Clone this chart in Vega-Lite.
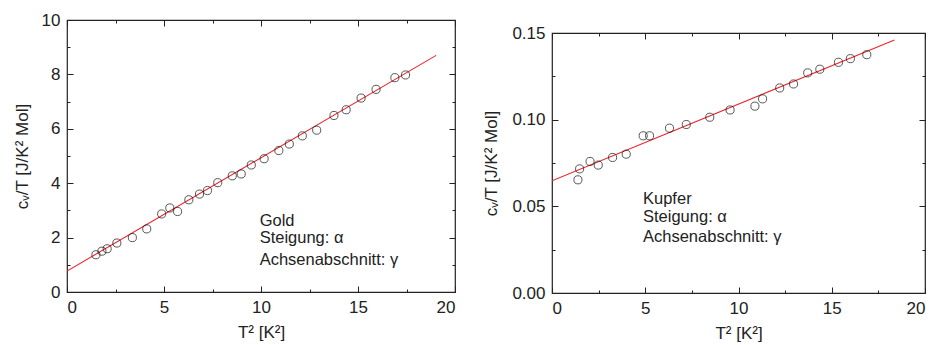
{
  "$schema": "https://vega.github.io/schema/vega-lite/v6.json",
  "padding": {"left": 12, "top": 10, "right": 0, "bottom": 0},
  "spacing": 25,
  "config": {
    "font": "Liberation Sans",
    "view": {"stroke": "#222", "strokeWidth": 1.2},
    "axis": {
      "domain": false,
      "grid": false,
      "labelFont": "Liberation Sans",
      "labelFontSize": 17,
      "labelColor": "#222",
      "titleFont": "Liberation Sans",
      "titleFontSize": 17,
      "titleFontWeight": "normal",
      "titleColor": "#222",
      "tickColor": "#222",
      "tickWidth": 1,
      "labelPadding": 13
    }
  },
  "datasets": {
    "gold": [
      {"t2": 1.49, "c": 1.37}, {"t2": 1.80, "c": 1.50}, {"t2": 2.07, "c": 1.59},
      {"t2": 2.57, "c": 1.80}, {"t2": 3.37, "c": 2.00}, {"t2": 4.11, "c": 2.32},
      {"t2": 4.88, "c": 2.87}, {"t2": 5.30, "c": 3.09}, {"t2": 5.70, "c": 2.96},
      {"t2": 6.28, "c": 3.39}, {"t2": 6.83, "c": 3.60}, {"t2": 7.24, "c": 3.73},
      {"t2": 7.77, "c": 4.02}, {"t2": 8.52, "c": 4.27}, {"t2": 8.98, "c": 4.34},
      {"t2": 9.50, "c": 4.67}, {"t2": 10.16, "c": 4.90}, {"t2": 10.92, "c": 5.20},
      {"t2": 11.46, "c": 5.44}, {"t2": 12.13, "c": 5.74}, {"t2": 12.87, "c": 5.95},
      {"t2": 13.76, "c": 6.49}, {"t2": 14.39, "c": 6.70}, {"t2": 15.16, "c": 7.13},
      {"t2": 15.93, "c": 7.45}, {"t2": 16.90, "c": 7.88}, {"t2": 17.45, "c": 7.98}
    ],
    "goldfit": [{"t2": 0, "c": 0.77}, {"t2": 19.03, "c": 8.70}],
    "goldtext": [
      {"t2": 9.93, "c": 2.42, "label": "Gold"},
      {"t2": 9.93, "c": 1.80, "label": "Steigung: α"},
      {"t2": 9.93, "c": 0.98, "label": "Achsenabschnitt: γ"}
    ],
    "kupfer": [
      {"t2": 1.39, "c": 0.0653}, {"t2": 1.48, "c": 0.0716}, {"t2": 2.04, "c": 0.0759},
      {"t2": 2.48, "c": 0.0738}, {"t2": 3.25, "c": 0.0782}, {"t2": 3.98, "c": 0.0801},
      {"t2": 4.89, "c": 0.0907}, {"t2": 5.23, "c": 0.0907}, {"t2": 6.30, "c": 0.0951},
      {"t2": 7.20, "c": 0.0972}, {"t2": 8.46, "c": 0.1014}, {"t2": 9.55, "c": 0.1056},
      {"t2": 10.88, "c": 0.1078}, {"t2": 11.29, "c": 0.1120}, {"t2": 12.21, "c": 0.1183},
      {"t2": 12.95, "c": 0.1206}, {"t2": 13.71, "c": 0.1270}, {"t2": 14.36, "c": 0.1291},
      {"t2": 15.36, "c": 0.1331}, {"t2": 16.00, "c": 0.1352}, {"t2": 16.88, "c": 0.1375}
    ],
    "kupferfit": [{"t2": 0, "c": 0.0647}, {"t2": 18.36, "c": 0.146}],
    "kupfertext": [
      {"t2": 4.88, "c": 0.0511, "label": "Kupfer"},
      {"t2": 4.88, "c": 0.0407, "label": "Steigung: α"},
      {"t2": 4.88, "c": 0.0292, "label": "Achsenabschnitt: γ"}
    ],
    "blank": [{"label": ""}]
  },
  "hconcat": [
    {
      "width": 388,
      "height": 272,
      "resolve": {"axis": {"x": "independent", "y": "independent"}},
      "layer": [
        {
          "data": {"name": "goldfit"},
          "mark": {"type": "line", "color": "#e8262d", "strokeWidth": 1.1, "clip": true},
          "encoding": {
            "x": {"field": "t2", "type": "quantitative", "scale": {"domain": [0, 20], "nice": false},
              "title": "T² [K²]",
              "axis": {"orient": "bottom", "values": [0, 2.5, 5, 7.5, 10, 12.5, 15, 17.5, 20],
                "labelExpr": "datum.value % 5 === 0 ? datum.label : ''",
                "tickSize": {"condition": {"test": "datum.value % 5 === 0", "value": -6}, "value": -3},
                "titlePadding": 9}},
            "y": {"field": "c", "type": "quantitative", "scale": {"domain": [0, 10], "nice": false},
              "title": "cᵥ/T [J/K² Mol]",
              "axis": {"orient": "left", "values": [0, 1, 2, 3, 4, 5, 6, 7, 8, 9, 10],
                "labelExpr": "datum.value % 2 === 0 ? datum.label : ''",
                "tickSize": {"condition": {"test": "datum.value % 2 === 0", "value": -6}, "value": -3},
                "titlePadding": 10}}
          }
        },
        {
          "data": {"name": "gold"},
          "mark": {"type": "point", "shape": "circle", "filled": false, "color": "#111", "strokeWidth": 1, "size": 66},
          "encoding": {
            "x": {"field": "t2", "type": "quantitative",
              "axis": {"orient": "top", "title": null, "labels": false, "values": [0, 2.5, 5, 7.5, 10, 12.5, 15, 17.5, 20],
                "tickSize": {"condition": {"test": "datum.value % 5 === 0", "value": -6}, "value": -3}}},
            "y": {"field": "c", "type": "quantitative",
              "axis": {"orient": "right", "title": null, "labels": false, "values": [0, 1, 2, 3, 4, 5, 6, 7, 8, 9, 10],
                "tickSize": {"condition": {"test": "datum.value % 2 === 0", "value": -6}, "value": -3}}}
          }
        },
        {
          "data": {"name": "goldtext"},
          "mark": {"type": "text", "align": "left", "baseline": "alphabetic", "fontSize": 16.5, "color": "#222", "font": "Liberation Sans"},
          "encoding": {
            "x": {"field": "t2", "type": "quantitative", "axis": null},
            "y": {"field": "c", "type": "quantitative", "axis": null},
            "text": {"field": "label"}
          }
        }
      ]
    },
    {
      "spacing": 12,
      "bounds": "flush",
      "vconcat": [
        {
          "width": 373,
          "height": 1,
          "view": {"stroke": null},
          "data": {"name": "blank"},
          "mark": {"type": "text"},
          "encoding": {"text": {"field": "label"}}
        },
        {
          "width": 373,
          "height": 260,
          "resolve": {"axis": {"x": "independent", "y": "independent"}},
          "layer": [
            {
              "data": {"name": "kupferfit"},
              "mark": {"type": "line", "color": "#e8262d", "strokeWidth": 1.1, "clip": true},
              "encoding": {
                "x": {"field": "t2", "type": "quantitative", "scale": {"domain": [0, 20], "nice": false},
                  "title": "T² [K²]",
                  "axis": {"orient": "bottom", "values": [0, 2.5, 5, 7.5, 10, 12.5, 15, 17.5, 20],
                    "labelExpr": "datum.value % 5 === 0 ? datum.label : ''",
                    "tickSize": {"condition": {"test": "datum.value % 5 === 0", "value": -6}, "value": -3},
                    "titlePadding": 9}},
                "y": {"field": "c", "type": "quantitative", "scale": {"domain": [0, 0.15], "nice": false},
                  "title": "cᵥ/T [J/K² Mol]",
                  "axis": {"orient": "left", "values": [0, 0.025, 0.05, 0.075, 0.1, 0.125, 0.15], "format": ".2f",
                    "labelExpr": "round(datum.value * 1000) % 50 === 0 ? datum.label : ''",
                    "tickSize": {"condition": {"test": "round(datum.value * 1000) % 50 === 0", "value": -6}, "value": -3},
                    "titlePadding": 11}}
              }
            },
            {
              "data": {"name": "kupfer"},
              "mark": {"type": "point", "shape": "circle", "filled": false, "color": "#111", "strokeWidth": 1, "size": 66},
              "encoding": {
                "x": {"field": "t2", "type": "quantitative",
                  "axis": {"orient": "top", "title": null, "labels": false, "values": [0, 2.5, 5, 7.5, 10, 12.5, 15, 17.5, 20],
                    "tickSize": {"condition": {"test": "datum.value % 5 === 0", "value": -6}, "value": -3}}},
                "y": {"field": "c", "type": "quantitative",
                  "axis": {"orient": "right", "title": null, "labels": false, "values": [0, 0.025, 0.05, 0.075, 0.1, 0.125, 0.15],
                    "tickSize": {"condition": {"test": "round(datum.value * 1000) % 50 === 0", "value": -6}, "value": -3}}}
              }
            },
            {
              "data": {"name": "kupfertext"},
              "mark": {"type": "text", "align": "left", "baseline": "alphabetic", "fontSize": 16.5, "color": "#222", "font": "Liberation Sans"},
              "encoding": {
                "x": {"field": "t2", "type": "quantitative", "axis": null},
                "y": {"field": "c", "type": "quantitative", "axis": null},
                "text": {"field": "label"}
              }
            }
          ]
        }
      ]
    }
  ]
}
